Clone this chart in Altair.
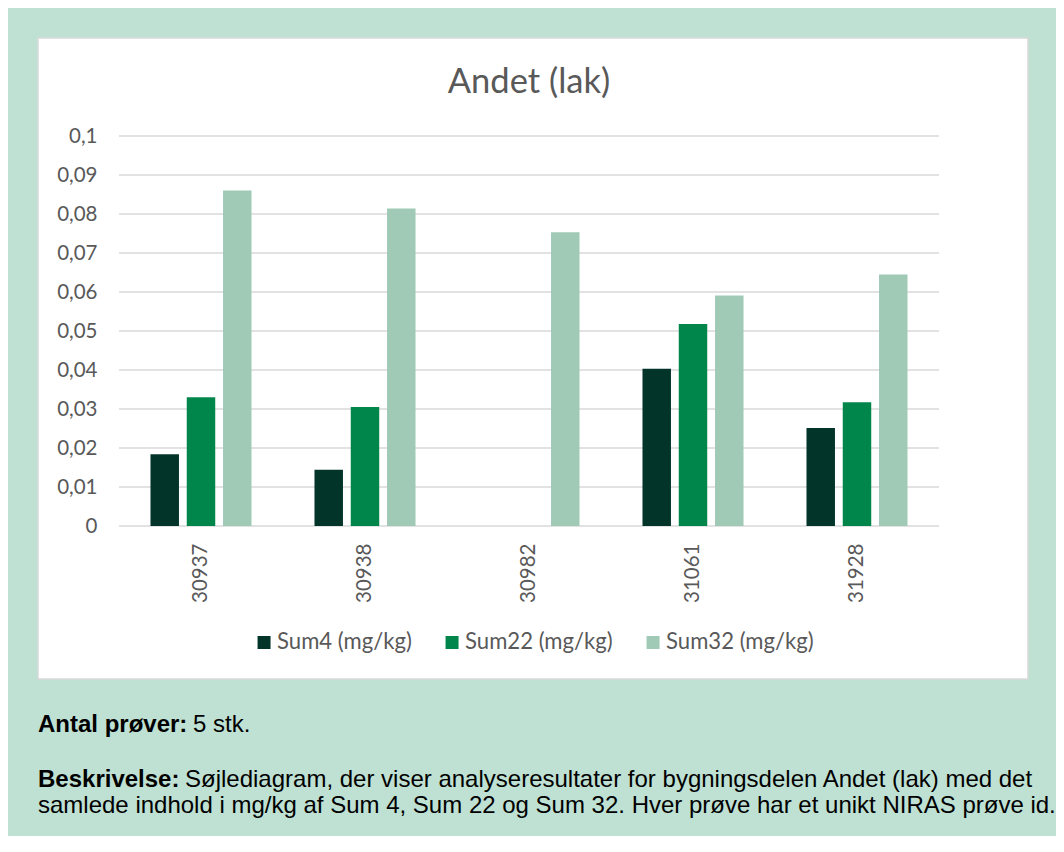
import altair as alt
import pandas as pd

# ---- data ----
SAMPLES = ["30937", "30938", "30982", "31061", "31928"]
SERIES = ["Sum4 (mg/kg)", "Sum22 (mg/kg)", "Sum32 (mg/kg)"]
SUM4 = [0.0184, 0.0144, None, 0.0403, 0.0251]
SUM22 = [0.0330, 0.0305, None, 0.0518, 0.0317]
SUM32 = [0.0860, 0.0814, 0.0753, 0.0591, 0.0645]
Y_TICKS = [0, 0.01, 0.02, 0.03, 0.04, 0.05, 0.06, 0.07, 0.08, 0.09, 0.1]
COLORS = ["#02342a", "#00864b", "#a0c9b6"]
TITLE = "Andet (lak)"
NOTE_LABELS = ["Antal prøver:", "Beskrivelse:"]
NOTE_TEXTS = [
    "5 stk.",
    "Søjlediagram, der viser analyseresultater for bygningsdelen Andet (lak) med det",
    "samlede indhold i mg/kg af Sum 4, Sum 22 og Sum 32. Hver prøve har et unikt NIRAS prøve id.",
]

rows = []
for s, a, b, c in zip(SAMPLES, SUM4, SUM22, SUM32):
    for name, v in zip(SERIES, [a, b, c]):
        if v is not None:
            rows.append({"sample": s, "series": name, "value": v})
df = pd.DataFrame(rows)

W, H = 820, 390
GRAY = "#595959"
FONT = "Lato"

yscale = alt.Scale(domain=[0, 0.1], nice=False, zero=True)
yaxis = alt.Axis(
    title=None, values=Y_TICKS,
    labelExpr="replace(format(datum.value, '~g'), '.', ',')",
    labelFont=FONT, labelFontSize=20.5, labelColor=GRAY, labelPadding=22,
    ticks=False, domain=False, grid=False, zindex=1,
)
xaxis = alt.Axis(
    title=None, labelAngle=270, labelFont=FONT, labelFontSize=20.5,
    labelColor=GRAY, labelPadding=17, ticks=False, domain=False, grid=False, zindex=1,
)

one = pd.DataFrame({"k": [0]})

# white chart frame (decoration)
box = alt.Chart(one).mark_rect(fill="white", stroke="#d9d9d9", strokeWidth=1.5).encode(
    x=alt.value(-81), x2=alt.value(909), y=alt.value(-98), y2=alt.value(543)
)

grid = alt.Chart(pd.DataFrame({"tick": Y_TICKS})).mark_rule(
    color="#d9d9d9", strokeWidth=1.5
).encode(
    y=alt.Y("tick:Q", scale=yscale, axis=yaxis),
    x=alt.value(0), x2=alt.value(W),
)

bars = alt.Chart(df).mark_bar().encode(
    x=alt.X("sample:N", sort=SAMPLES,
            scale=alt.Scale(paddingInner=0.384, paddingOuter=0.192), axis=xaxis),
    xOffset=alt.XOffset("series:N", sort=SERIES,
                        scale=alt.Scale(paddingInner=0.215, paddingOuter=0)),
    y=alt.Y("value:Q", scale=yscale, axis=yaxis),
    color=alt.Color(
        "series:N", sort=SERIES,
        scale=alt.Scale(domain=SERIES, range=COLORS),
        legend=alt.Legend(
            title=None, orient="none", legendX=134, legendY=495,
            direction="horizontal", symbolType="square", symbolSize=169,
            symbolStrokeWidth=0, labelFont=FONT, labelFontSize=22.1,
            labelColor=GRAY, labelOffset=2, columnPadding=29, padding=0, zindex=1,
        ),
    ),
)

def note(text, x, y, bold):
    return alt.Chart(one).mark_text(
        text=text, font="Liberation Sans", fontSize=24,
        fontWeight="bold" if bold else "normal", color="#000000",
        align="left", baseline="alphabetic",
    ).encode(x=alt.value(x), y=alt.value(y))

notes = [
    note(NOTE_LABELS[0], -81, 596, True),
    note(NOTE_TEXTS[0], 74, 596, False),
    note(NOTE_LABELS[1], -81, 650.5, True),
    note(NOTE_TEXTS[1], 66, 650.5, False),
    note(NOTE_TEXTS[2], -81, 677, False),
]

chart = alt.layer(box, grid, bars, *notes).properties(
    width=W, height=H,
    padding={"left": 111, "top": 128, "right": 117, "bottom": 310},
    autosize=alt.AutoSizeParams(type="none"),
    title=alt.TitleParams(
        text=TITLE, font=FONT, fontSize=34.5, fontWeight="normal", color=GRAY,
        anchor="middle", frame="group", baseline="alphabetic", offset=-90, zindex=1,
    ),
).configure(background="#bfe1d3").configure_view(stroke=None)

chart.save("out.html", embed_options={"renderer": "svg", "actions": False})
